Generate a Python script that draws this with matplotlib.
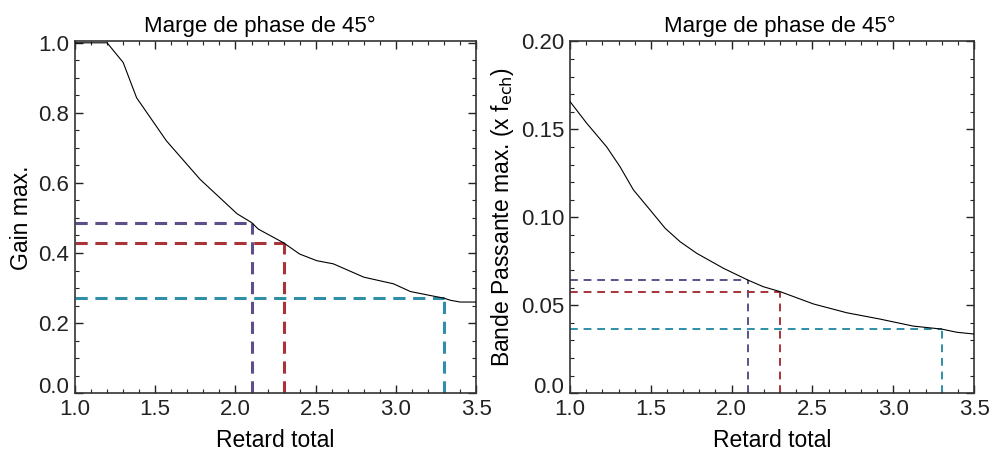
import matplotlib
matplotlib.use('Agg')
import matplotlib.pyplot as plt
from matplotlib.ticker import MultipleLocator, FixedLocator, FixedFormatter

plt.rcParams['font.family'] = ['Liberation Sans', 'DejaVu Sans']

# Gain max. vs retard total
gain_x = [1.0, 1.2, 1.3, 1.384, 1.57, 1.78, 2.01, 2.1, 2.143, 2.3, 2.4, 2.507,
          2.61, 2.8, 2.985, 3.09, 3.21, 3.3, 3.34, 3.4, 3.5]
gain_y = [1.0, 1.0, 0.944, 0.843, 0.72, 0.61, 0.512, 0.487, 0.468, 0.429, 0.397,
          0.378, 0.369, 0.331, 0.312, 0.29, 0.279, 0.271, 0.265, 0.26, 0.26]

# Bande passante max. (x f_ech) vs retard total
bw_x = [1.0, 1.103, 1.227, 1.309, 1.392, 1.495, 1.588, 1.681, 1.784, 1.949, 2.1,
        2.196, 2.3, 2.506, 2.712, 2.918, 3.124, 3.3, 3.393, 3.5]
bw_y = [0.1658, 0.1535, 0.140, 0.1288, 0.1156, 0.1042, 0.0938, 0.0861, 0.0795,
        0.071, 0.0643, 0.0605, 0.0577, 0.0507, 0.0457, 0.0421, 0.0381, 0.0364,
        0.0346, 0.0336]

# marked delays and the matching values
mark_x = [2.1, 2.3, 3.3]
mark_gain = [0.487, 0.429, 0.271]
mark_bw = [0.0643, 0.0577, 0.0364]
mark_colors = ['#5e4f8a', '#a8343a', '#2e8fa6']

fig = plt.figure(figsize=(9.92, 4.55), dpi=100)
ax1 = fig.add_axes([0.0756, 0.136, 0.4044, 0.773])
ax2 = fig.add_axes([0.5746, 0.136, 0.4074, 0.773])


def style_axes(ax, title_x):
    ax.tick_params(which='both', direction='in', top=True, right=True,
                   labelsize=16, colors='#222222', pad=4)
    ax.tick_params(which='major', length=6, width=1)
    ax.tick_params(which='minor', length=3, width=0.8)
    for sp in ax.spines.values():
        sp.set_color('#333333')
        sp.set_linewidth(1.2)
    ax.set_xlim(1.0, 3.5)
    ax.xaxis.set_major_locator(MultipleLocator(0.5))
    ax.xaxis.set_minor_locator(MultipleLocator(0.1))
    ax.set_xlabel('Retard total', fontsize=16.5, labelpad=7)
    ax.set_title('Marge de phase de 45°', fontsize=16, pad=7, x=title_x)


def lower_bottom_label(ax):
    # the 0.0 label rests on the axis line instead of being centred on it
    fig.canvas.draw()
    ax.get_yticklabels()[0].set_verticalalignment('baseline')


# left panel
ax1.plot(gain_x, gain_y, color='black', lw=0.8, zorder=3)
for x, y, c in zip(mark_x, mark_gain, mark_colors):
    ax1.plot([1.0, x], [y, y], color=c, lw=2.2, ls=(0, (4, 2.5)))
    ax1.plot([x, x], [0, y], color=c, lw=2.2, ls=(0, (4, 2.5)))
style_axes(ax1, 0.46)
ax1.set_ylim(0, 1.004)
ax1.yaxis.set_major_locator(FixedLocator([0.0, 0.2, 0.4, 0.6, 0.8, 1.0]))
ax1.yaxis.set_major_formatter(FixedFormatter(['0.0', '0.2', '0.4', '0.6', '0.8', '1.0']))
ax1.yaxis.set_minor_locator(MultipleLocator(0.05))
ax1.set_ylabel('Gain max.', fontsize=16.5, labelpad=4)

# right panel
ax2.plot(bw_x, bw_y, color='black', lw=0.8, zorder=3)
for x, y, c in zip(mark_x, mark_bw, mark_colors):
    ax2.plot([1.0, x], [y, y], color=c, lw=1.4, ls=(0, (4, 3)))
    ax2.plot([x, x], [0, y], color=c, lw=1.4, ls=(0, (4, 3)))
style_axes(ax2, 0.52)
ax2.set_ylim(0, 0.2)
ax2.yaxis.set_major_locator(FixedLocator([0.0, 0.05, 0.10, 0.15, 0.20]))
ax2.yaxis.set_major_formatter(FixedFormatter(['0.0', '0.05', '0.10', '0.15', '0.20']))
ax2.yaxis.set_minor_locator(MultipleLocator(0.01))
ax2.set_ylabel('Bande Passante max. (x f$_{\\mathrm{ech}}$)', fontsize=16.5, labelpad=4)

lower_bottom_label(ax1)
lower_bottom_label(ax2)

fig.savefig('out.png', dpi=100)
